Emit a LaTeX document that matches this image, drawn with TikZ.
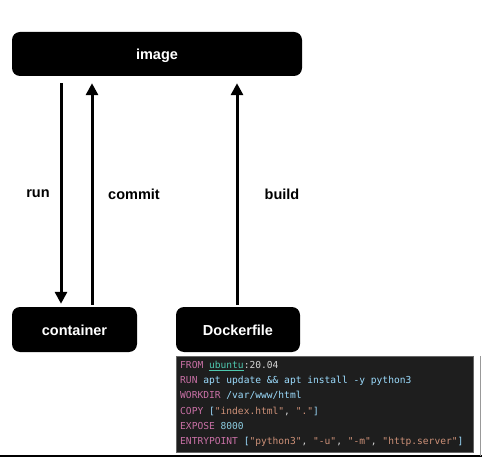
\documentclass[tikz,border=0pt]{standalone}
\usepackage{fontspec}
\setmainfont{Liberation Sans}
\setmonofont{DejaVu Sans Mono}
\usetikzlibrary{arrows.meta}
\definecolor{kw}{RGB}{200,112,165}
\definecolor{teal}{RGB}{78,201,176}
\definecolor{plain}{RGB}{156,220,254}
\definecolor{str}{RGB}{206,145,120}
\definecolor{num}{RGB}{140,205,225}
\definecolor{punc}{RGB}{212,212,212}
\definecolor{codebg}{RGB}{30,30,30}
\tikzset{
  boxnode/.style={fill=black, rounded corners=8pt, text=white, font=\bfseries\fontsize{14.5}{17}\selectfont, inner sep=0pt, text height=12pt, text depth=1pt},
  lbl/.style={font=\bfseries\fontsize{14.5}{17}\selectfont, text=black},
  arr/.style={line width=3pt, -{Triangle[length=12pt,width=12pt]}},
}
\begin{document}
\begin{tikzpicture}[x=1pt,y=-1pt]
\useasboundingbox (0,0) rectangle (482,457);
% boxes
\node[boxnode, minimum width=290pt, minimum height=44pt] (image) at (157,54) {image};
\node[boxnode, minimum width=125pt, minimum height=45pt] (container) at (74.5,329.5) {container};
\node[boxnode, minimum width=124pt, minimum height=45pt] (dockerfile) at (238,329.5) {Dockerfile};
% arrow x-positions
\coordinate (runx) at (61,0);
\coordinate (commitx) at (92,0);
\coordinate (buildx) at (237,0);
\draw[arr, shorten <=7pt, shorten >=3pt] (image.south -| runx) -- (container.north -| runx);
\draw[arr, shorten <=2pt, shorten >=7pt] (container.north -| commitx) -- (image.south -| commitx);
\draw[arr, shorten <=2pt, shorten >=7pt] (dockerfile.north -| buildx) -- (image.south -| buildx);
% labels
\node[lbl] (runlbl) at (38,194) {run};
\node[lbl] (commitlbl) at (134,194) {commit};
\node[lbl] (buildlbl) at (282,194) {build};
% code box
\node[fill=codebg, draw=black!60, line width=0.4pt, minimum width=297pt, minimum height=96pt, inner sep=0pt] (code) at (324.5,404) {};
\node[anchor=north west, align=left, inner sep=0pt, font=\ttfamily\fontsize{9.6}{15.2}\selectfont] (codetext) at (180,361) {%
\textcolor{kw}{FROM} \textcolor{teal}{\underline{ubuntu}}\textcolor{punc}{:20.04}\\
\textcolor{kw}{RUN} \textcolor{plain}{apt update \&\& apt install -y python3}\\
\textcolor{kw}{WORKDIR} \textcolor{plain}{/var/www/html}\\
\textcolor{kw}{COPY} \textcolor{plain}{[}\textcolor{str}{"index.html"}\textcolor{punc}{, }\textcolor{str}{"."}\textcolor{plain}{]}\\
\textcolor{kw}{EXPOSE} \textcolor{num}{8000}\\
\textcolor{kw}{ENTRYPOINT} \textcolor{plain}{[}\textcolor{str}{"python3"}\textcolor{punc}{, }\textcolor{str}{"-u"}\textcolor{punc}{, }\textcolor{str}{"-m"}\textcolor{punc}{, }\textcolor{str}{"http.server"}\textcolor{plain}{]}};
% frame lines
\draw[black, line width=1.5pt] (0,456) -- (482,456);
\draw[black!40, line width=0.6pt] (480,356) -- (480,456);
\end{tikzpicture}
\end{document}
